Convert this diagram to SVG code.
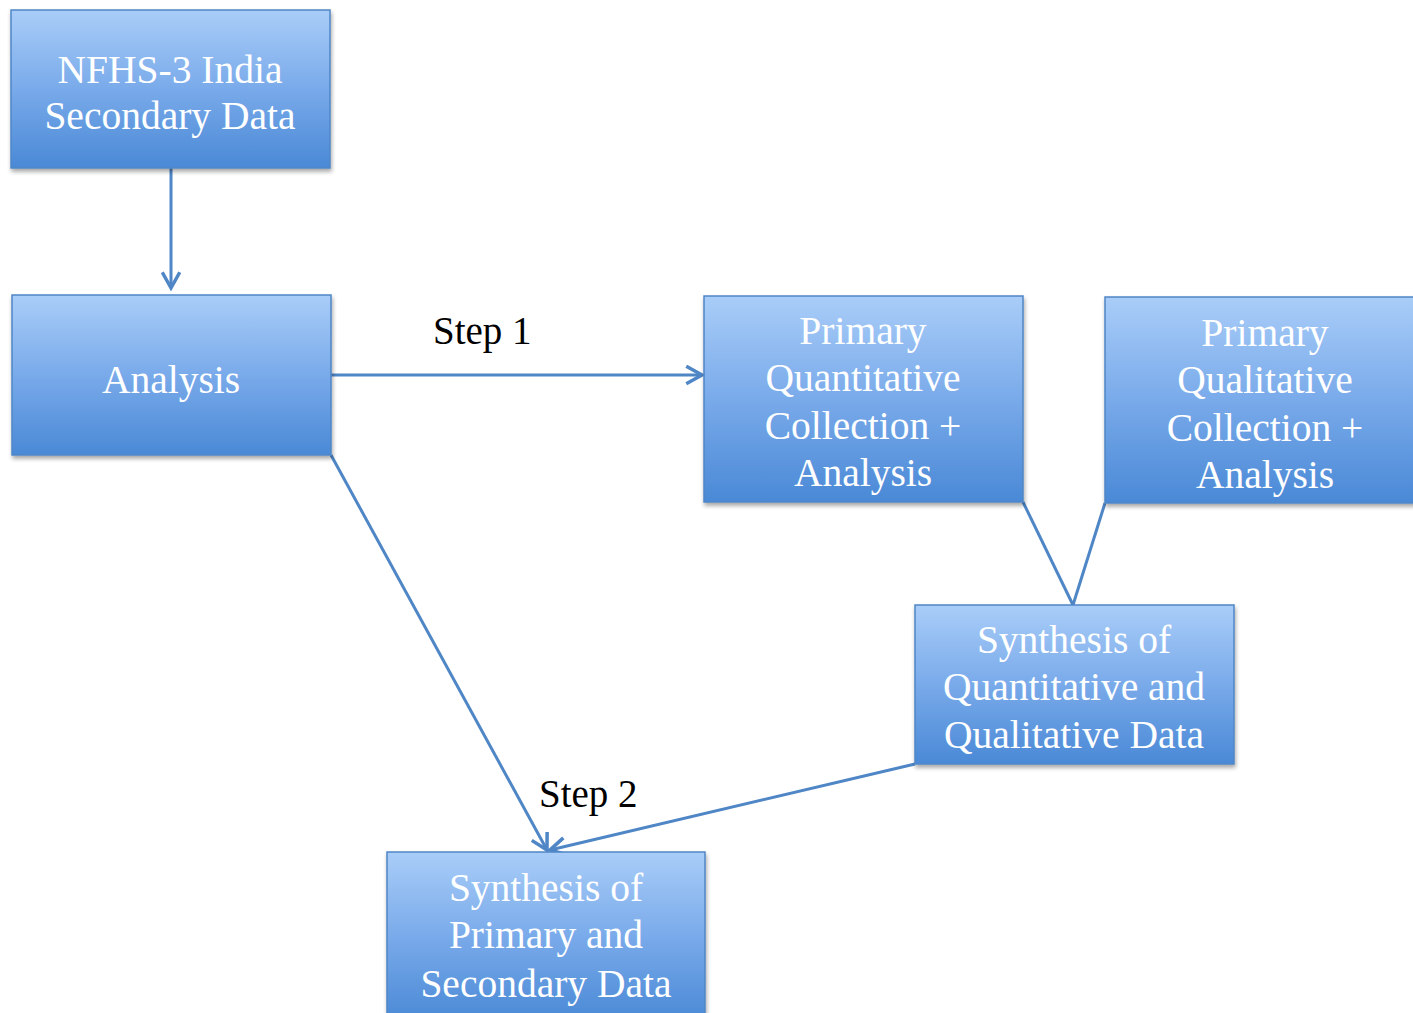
<svg xmlns="http://www.w3.org/2000/svg" width="1413" height="1013" viewBox="0 0 1413 1013">
<defs>
<linearGradient id="g" x1="0" y1="0" x2="0" y2="1">
<stop offset="0" stop-color="#a9cdf8"/>
<stop offset="0.5" stop-color="#79aaea"/>
<stop offset="1" stop-color="#4a89d6"/>
</linearGradient>
<filter id="sh" x="-5%" y="-5%" width="115%" height="115%">
<feGaussianBlur in="SourceAlpha" stdDeviation="2"/>
<feOffset dx="1" dy="3"/>
<feComponentTransfer><feFuncA type="linear" slope="0.35"/></feComponentTransfer>
<feMerge><feMergeNode/><feMergeNode in="SourceGraphic"/></feMerge>
</filter>
<marker id="ah" viewBox="0 0 12 12" refX="10" refY="6" markerWidth="7" markerHeight="7" markerUnits="strokeWidth" orient="auto">
<path d="M1,1 L10,6 L1,11" fill="none" stroke="#4f86c6" stroke-width="2"/>
</marker>
</defs>
<style>
.box{fill:url(#g);stroke:#4f86c6;stroke-width:1.5;filter:url(#sh)}
.t{font-family:"Liberation Serif","Times New Roman",serif;font-size:39.5px;fill:#ffffff;text-anchor:middle}
.s{font-family:"Liberation Serif","Times New Roman",serif;font-size:39px;fill:#000000}
.c{fill:none;stroke:#4f86c6;stroke-width:3}
</style>
<rect width="1413" height="1013" fill="#ffffff"/>
<g id="connectors">
<line class="c" x1="171" y1="168" x2="171" y2="288" marker-end="url(#ah)"/>
<line class="c" x1="331" y1="375" x2="702" y2="375" marker-end="url(#ah)"/>
<line class="c" x1="331" y1="455" x2="547" y2="850" marker-end="url(#ah)"/>
<line class="c" x1="915" y1="764" x2="550" y2="850" marker-end="url(#ah)"/>
<line class="c" x1="1023" y1="502" x2="1073" y2="605"/>
<line class="c" x1="1105" y1="503" x2="1073" y2="605"/>
</g>
<g id="n1"><rect class="box" x="11" y="10" width="319" height="158"/>
<text class="t" x="170" y="83">NFHS-3 India</text><text class="t" x="170" y="129">Secondary Data</text></g>
<g id="n2"><rect class="box" x="12" y="295" width="319" height="160"/>
<text class="t" x="171" y="393">Analysis</text></g>
<g id="n3"><rect class="box" x="704" y="296" width="319" height="206"/>
<text class="t" x="863" y="344">Primary</text><text class="t" x="863" y="391">Quantitative</text><text class="t" x="863" y="439">Collection +</text><text class="t" x="863" y="486">Analysis</text></g>
<g id="n4"><rect class="box" x="1105" y="297" width="320" height="206"/>
<text class="t" x="1265" y="346">Primary</text><text class="t" x="1265" y="393">Qualitative</text><text class="t" x="1265" y="441">Collection +</text><text class="t" x="1265" y="488">Analysis</text></g>
<g id="n5"><rect class="box" x="915" y="605" width="319" height="159"/>
<text class="t" x="1074" y="653">Synthesis of</text><text class="t" x="1074" y="700">Quantitative and</text><text class="t" x="1074" y="748">Qualitative Data</text></g>
<g id="n6"><rect class="box" x="387" y="852" width="318" height="170"/>
<text class="t" x="546" y="901">Synthesis of</text><text class="t" x="546" y="948">Primary and</text><text class="t" x="546" y="997">Secondary Data</text></g>
<text class="s" x="433" y="344">Step 1</text>
<text class="s" x="539" y="807">Step 2</text>
</svg>
